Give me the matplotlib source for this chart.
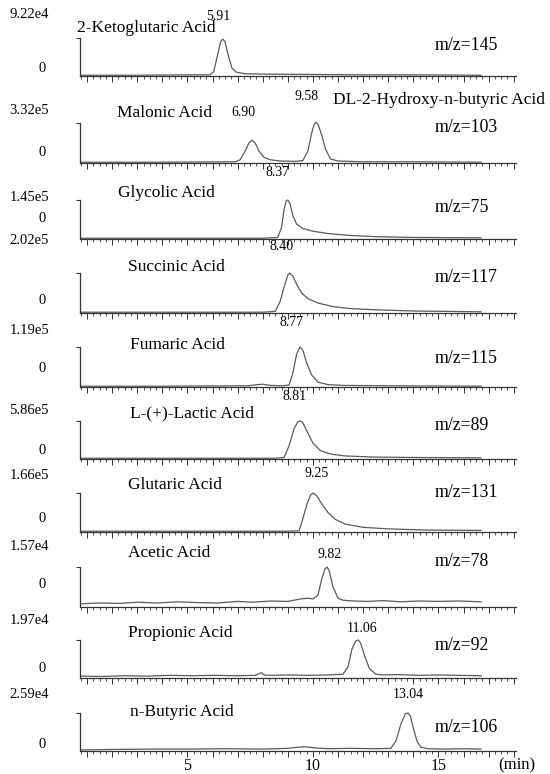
import matplotlib
matplotlib.use('Agg')
import matplotlib.pyplot as plt
from matplotlib.ticker import MultipleLocator, FuncFormatter

# названия соединений и подписи
names = ['2-Ketoglutaric Acid', 'Malonic Acid', 'Glycolic Acid', 'Succinic Acid',
         'Fumaric Acid', 'L-(+)-Lactic Acid', 'Glutaric Acid', 'Acetic Acid',
         'Propionic Acid', 'n-Butyric Acid']
mz_labels = ['m/z=145', 'm/z=103', 'm/z=75', 'm/z=117', 'm/z=115',
             'm/z=89', 'm/z=131', 'm/z=78', 'm/z=92', 'm/z=106']
ymax_labels = ['9.22e4', '3.32e5', '1.45e5', '2.02e5', '1.19e5',
               '5.86e5', '1.66e5', '1.57e4', '1.97e4', '2.59e4']
rt_labels = ['5.91', '6.90', '9.58', '8.37', '8.40', '8.77',
             '8.81', '9.25', '9.82', '11.06', '13.04']
extra_name = 'DL-2-Hydroxy-n-butyric Acid'

# хроматограммы (время, мин / относительная интенсивность)
t_keto = [0.75, 3.0, 5.0, 5.9, 6.05, 6.2, 6.32, 6.41, 6.5, 6.62, 6.78, 6.95, 7.3, 8.0, 10.0, 12.0, 14.0, 16.7]
i_keto = [0.02, 0.02, 0.03, 0.03, 0.12, 0.55, 0.9, 0.97, 0.9, 0.55, 0.2, 0.1, 0.06, 0.05, 0.04, 0.03, 0.03, 0.02]

t_malon = [0.75, 4, 6.9, 7.1, 7.3, 7.45, 7.57, 7.7, 7.85, 8.05, 8.3, 8.7, 9.3, 9.6, 9.8, 9.95,
           10.05, 10.12, 10.2, 10.35, 10.5, 10.7, 11.0, 12, 14, 16.7]
i_malon = [0.02, 0.02, 0.03, 0.08, 0.3, 0.5, 0.57, 0.5, 0.3, 0.14, 0.08, 0.05, 0.04, 0.06, 0.3, 0.75,
           0.97, 1.02, 0.97, 0.7, 0.35, 0.1, 0.05, 0.03, 0.03, 0.02]

t_glyc = [0.75, 4, 8, 8.6, 8.75, 8.85, 8.93, 9.0, 9.08, 9.2, 9.35, 9.6, 10.0, 10.6, 11.5, 12.5, 14, 16.7]
i_glyc = [0.02, 0.02, 0.02, 0.04, 0.3, 0.75, 0.97, 1.0, 0.92, 0.6, 0.38, 0.27, 0.2, 0.14, 0.09, 0.06, 0.04, 0.03]

t_succ = [0.75, 4, 8, 8.5, 8.7, 8.85, 9.0, 9.08, 9.2, 9.35, 9.55, 9.8, 10.2, 10.8, 11.5, 12.5, 14, 16.7]
i_succ = [0.02, 0.02, 0.02, 0.04, 0.3, 0.65, 0.95, 1.0, 0.92, 0.72, 0.5, 0.36, 0.25, 0.16, 0.11, 0.08, 0.05, 0.03]

t_fum = [0.75, 4, 7.4, 7.8, 8.0, 8.3, 8.8, 9.05, 9.2, 9.35, 9.48, 9.6, 9.75, 9.95, 10.2, 10.6, 11.2, 13, 16.7]
i_fum = [0.02, 0.02, 0.03, 0.06, 0.07, 0.04, 0.03, 0.05, 0.35, 0.82, 1.0, 0.92, 0.6, 0.3, 0.12, 0.06, 0.04, 0.03, 0.02]

t_lact = [0.75, 4, 8.5, 8.85, 9.05, 9.25, 9.4, 9.5, 9.6, 9.8, 10.0, 10.3, 10.7, 11.3, 12.5, 14, 16.7]
i_lact = [0.02, 0.02, 0.02, 0.04, 0.35, 0.8, 0.98, 1.0, 0.95, 0.68, 0.42, 0.22, 0.13, 0.08, 0.05, 0.04, 0.03]

t_glut = [0.75, 4, 9.0, 9.45, 9.6, 9.78, 9.92, 10.02, 10.15, 10.35, 10.6, 10.9, 11.3, 12, 13, 14.5, 16.7]
i_glut = [0.02, 0.02, 0.02, 0.03, 0.35, 0.75, 0.96, 1.0, 0.93, 0.72, 0.5, 0.32, 0.2, 0.12, 0.08, 0.05, 0.04]

t_acet = [0.75, 1.5, 2.3, 3.0, 3.8, 4.6, 5.4, 6.2, 7.0, 7.6, 8.3, 9.0, 9.5, 9.8, 10.0, 10.2, 10.35,
          10.48, 10.56, 10.65, 10.8, 11.0, 11.2, 11.6, 12.2, 12.8, 13.5, 14.2, 15.0, 15.8, 16.7]
i_acet = [0.08, 0.1, 0.09, 0.12, 0.1, 0.13, 0.11, 0.1, 0.14, 0.12, 0.15, 0.14, 0.2, 0.22, 0.2, 0.3, 0.7,
          0.95, 1.0, 0.9, 0.5, 0.22, 0.17, 0.15, 0.14, 0.16, 0.13, 0.15, 0.14, 0.15, 0.13]

t_prop = [0.75, 1.6, 2.5, 3.4, 4.3, 5.2, 6.1, 7.0, 7.7, 7.95, 8.05, 8.3, 9.0, 9.8, 10.6, 11.2, 11.4,
          11.55, 11.7, 11.8, 11.9, 12.05, 12.25, 12.5, 12.8, 13.4, 14.2, 15.0, 15.8, 16.7]
i_prop = [0.05, 0.04, 0.06, 0.05, 0.07, 0.06, 0.07, 0.06, 0.07, 0.14, 0.08, 0.07, 0.08, 0.07, 0.08, 0.1, 0.3,
          0.75, 0.97, 1.0, 0.92, 0.6, 0.25, 0.1, 0.08, 0.09, 0.07, 0.08, 0.07, 0.06]

t_buty = [0.75, 2, 3.5, 5, 6.5, 8, 9.0, 9.4, 9.7, 10.1, 10.6, 11.5, 12.5, 13.1, 13.3, 13.5, 13.68,
          13.78, 13.88, 14.0, 14.15, 14.3, 14.6, 15.2, 16.0, 16.7]
i_buty = [0.03, 0.04, 0.05, 0.05, 0.06, 0.05, 0.07, 0.1, 0.11, 0.08, 0.06, 0.07, 0.06, 0.07, 0.25, 0.7, 0.98,
          1.0, 0.93, 0.6, 0.25, 0.1, 0.06, 0.05, 0.06, 0.05]

times = [t_keto, t_malon, t_glyc, t_succ, t_fum, t_lact, t_glut, t_acet, t_prop, t_buty]
signals = [i_keto, i_malon, i_glyc, i_succ, i_fum, i_lact, i_glut, i_acet, i_prop, i_buty]

# разметка в пикселях
W, H = 550, 774
ax_left, ax_right = 80, 516
ax_bottom = [76, 163, 239, 313, 387, 459, 532, 607, 678, 751]
ax_top = [38, 123, 200, 273, 347, 421, 493, 567, 640, 713]
name_pos = [(77, 28), (117, 113), (118, 193), (128, 267), (130, 345),
            (130, 413), (128, 485), (128, 553), (128, 633), (130, 712)]
mz_y = [45, 127, 208, 277, 358, 426, 493, 562, 645, 727]
ymax_y = [15, 110, 197, 240, 330, 410, 476, 547, 620, 695]
zero_y = [69, 153, 219, 300, 368, 450, 518, 585, 668, 745]
rt_pos = [(218, 16), (243, 112), (307, 97), (278, 173), (282, 247), (292, 323),
          (295, 397), (317, 473), (330, 555), (362, 628), (408, 695)]


def fx(px):
    return px / W


def fy(py):
    return 1 - py / H


plt.rcParams['font.family'] = ['Liberation Serif', 'DejaVu Serif']
fig = plt.figure(figsize=(5.5, 7.74), dpi=100)

line_col = '#5a5a5a'
axis_col = '#333333'

for k in range(10):
    ax = fig.add_axes([fx(ax_left), fy(ax_bottom[k]),
                       (ax_right - ax_left) / W, (ax_bottom[k] - ax_top[k]) / H])
    ax.patch.set_alpha(0)
    ax.plot(times[k], signals[k], color=line_col, lw=0.9, clip_on=False)
    ax.set_xlim(0.72, 18.09)
    ax.set_ylim(0, 1)
    ax.spines['top'].set_visible(False)
    ax.spines['right'].set_visible(False)
    for s in ('left', 'bottom'):
        ax.spines[s].set_color(axis_col)
        ax.spines[s].set_linewidth(0.9)
    ax.set_yticks([1])
    ax.set_yticklabels([])
    ax.tick_params(axis='y', length=3, width=0.8, color=axis_col, direction='out')
    ax.xaxis.set_major_locator(MultipleLocator(1))
    ax.xaxis.set_minor_locator(MultipleLocator(0.25))
    ax.tick_params(axis='x', which='major', length=4, width=0.7, color=axis_col, direction='out')
    ax.tick_params(axis='x', which='minor', length=2, width=0.6, color=axis_col, direction='out')
    if k == 9:
        ax.xaxis.set_major_formatter(FuncFormatter(
            lambda v, p: '%d' % v if round(v) in (5, 10, 15) else ''))
        ax.tick_params(axis='x', labelsize=11.5, pad=1)
    else:
        ax.tick_params(axis='x', labelbottom=False)

    # подписи панели
    fig.text(fx(name_pos[k][0]), fy(name_pos[k][1]), names[k],
             fontsize=12.5, ha='left', va='center')
    fig.text(fx(435), fy(mz_y[k]), mz_labels[k], fontsize=12.8, ha='left', va='center')
    fig.text(fx(49), fy(ymax_y[k]), ymax_labels[k], fontsize=10.5, ha='right', va='center')
    fig.text(fx(42), fy(zero_y[k]), '0', fontsize=10.5, ha='center', va='center')

fig.text(fx(333), fy(100), extra_name, fontsize=12.5, ha='left', va='center')

for lab, (x, y) in zip(rt_labels, rt_pos):
    fig.text(fx(x), fy(y), lab, fontsize=10, ha='center', va='center')

fig.text(fx(517), fy(765), '(min)', fontsize=12, ha='center', va='center')

fig.savefig('out.png', dpi=100)
